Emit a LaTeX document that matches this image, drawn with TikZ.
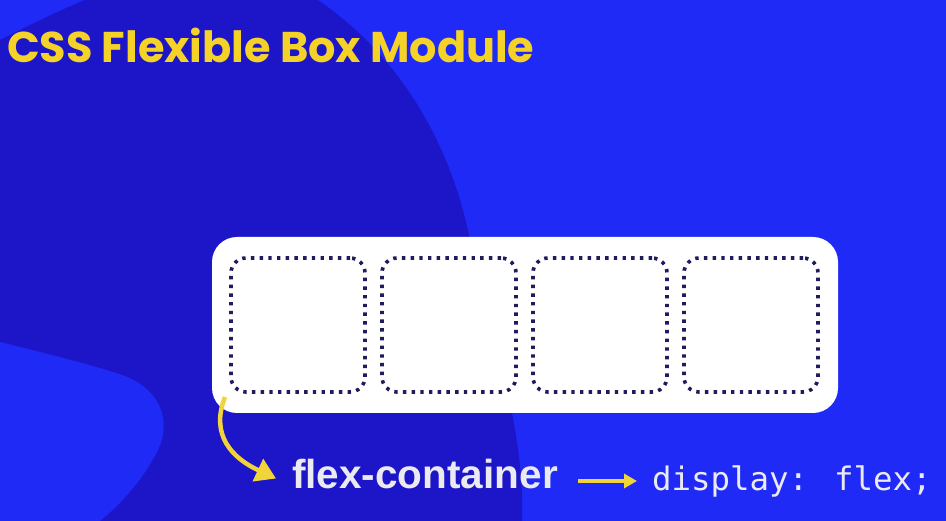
\documentclass[tikz,border=0pt]{standalone}
\usepackage{fontspec}
\usetikzlibrary{arrows.meta}
\newfontfamily\titlefont{Poppins}
\newfontfamily\labelfont{Liberation Sans}
\newfontfamily\codefont{DejaVu Sans Mono}
\definecolor{bgblue}{RGB}{31,42,246}
\definecolor{darkblob}{RGB}{28,22,200}
\definecolor{titleyellow}{RGB}{244,210,40}
\definecolor{arrowyellow}{RGB}{240,212,58}
\definecolor{dotnavy}{RGB}{30,28,92}
\definecolor{labelwhite}{RGB}{234,234,240}
\tikzset{
  itembox/.style={draw=dotnavy, line width=3.6pt, dash pattern=on 3.4pt off 5.3pt,
    rounded corners=15pt, minimum width=134pt, minimum height=134pt, inner sep=0pt, fill=white},
  yarrow/.style={draw=arrowyellow, line width=4.5pt},
}
\begin{document}
\begin{tikzpicture}[x=1pt,y=-1pt]
\useasboundingbox (0,0) rectangle (946,521);
% background
\fill[bgblue] (0,0) rectangle (946,521);
% dark blob
\fill[darkblob] (85,0) -- (318,0) .. controls (405,60) and (452,150) .. (470,240)
  .. controls (500,360) and (525,440) .. (522,521) -- (0,521) -- (0,40) .. controls (30,25) and (60,10) .. (85,0) -- cycle;
% lighter blob bottom-left
\fill[bgblue] (0,342) .. controls (40,352) and (90,364) .. (125,376)
  .. controls (160,390) and (172,420) .. (158,450) .. controls (143,480) and (120,505) .. (100,521)
  -- (0,521) -- cycle;
% title
\node[anchor=base west, inner sep=0pt, text=titleyellow, font=\titlefont\bfseries\fontsize{43}{47}\selectfont] (title) at (7,63) {CSS Flexible Box Module};
% container
\node[fill=white, rounded corners=25pt, minimum width=626pt, minimum height=176pt, inner sep=0pt] (cont) at (525,325) {};
\node[itembox] (b1) at (298,325) {};
\node[itembox] (b2) at (449,325) {};
\node[itembox] (b3) at (600,325) {};
\node[itembox] (b4) at (751,325) {};
% labels
\node[anchor=base west, inner sep=0pt, text=labelwhite, font=\labelfont\bfseries\fontsize{40.5}{44}\selectfont] (fc) at (292,489) {flex-container};
\node[anchor=base west, inner sep=0pt, text=labelwhite, font=\codefont\fontsize{32.4}{36}\selectfont] (code) at (652,490) {display: flex;};
% arrows
\coordinate (cstart) at (225,397);
\coordinate (atip) at (578,481);
\coordinate (btip) at (637,481);
\draw[yarrow, -{Triangle[length=20pt,width=24pt]}] (cstart) .. controls (210,435) and (232,458) .. ([xshift=-16pt,yshift=-4pt]fc.west);
\draw[yarrow, line width=3.5pt, -{Triangle[length=13pt,width=14pt]}] (atip) -- (btip);
\end{tikzpicture}
\end{document}
